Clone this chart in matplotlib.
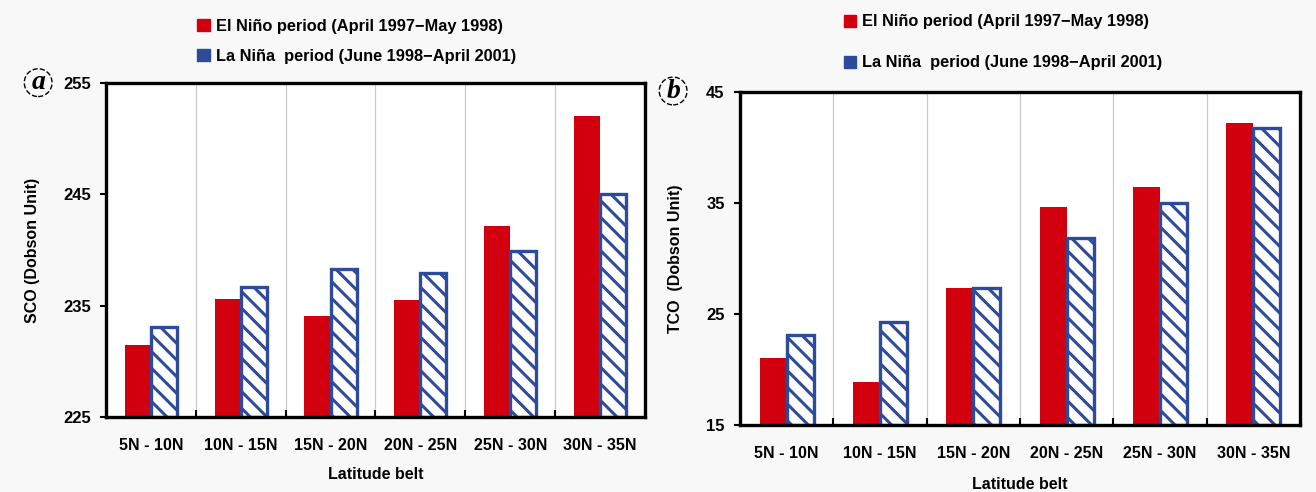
import numpy as np
import matplotlib
matplotlib.use("Agg")
import matplotlib.pyplot as plt
from matplotlib.patches import Patch

plt.rcParams['font.family'] = ['Liberation Sans', 'DejaVu Sans']
plt.rcParams['font.weight'] = 'bold'
plt.rcParams['hatch.linewidth'] = 2.2
plt.rcParams['hatch.color'] = '#2e4b9b'

belts = ["5N - 10N", "10N - 15N", "15N - 20N", "20N - 25N", "25N - 30N", "30N - 35N"]

# SCO (panel a)
sco_nino = [231.5, 235.6, 234.1, 235.5, 242.2, 252.0]
sco_nina = [233.1, 236.7, 238.3, 237.9, 239.9, 245.0]

# TCO (panel b)
tco_nino = [21.0, 18.9, 27.3, 34.6, 36.4, 42.2]
tco_nina = [23.1, 24.3, 27.3, 31.8, 35.0, 41.7]

label_nino = "El Niño period (April 1997\u2212May 1998)"
label_nina = "La Niña  period (June 1998\u2212April 2001)"

red = '#d2000f'
blue = '#2e4b9b'

fig = plt.figure(figsize=(13.16, 4.92), dpi=100, facecolor='#f8f8f8')
axa = fig.add_axes([0.0805, 0.1524, 0.4096, 0.6789])
axb = fig.add_axes([0.5623, 0.1362, 0.4255, 0.6775])


def draw_panel(ax, nino, nina, ylim, yticks, ylabel, letter, letter_xy, leg_xy, leg_space, lab_xy, xl_y):
    x = np.arange(len(belts))
    w = 0.29
    ax.set_facecolor('white')
    ax.bar(x - w / 2, np.array(nino) - ylim[0], w, bottom=ylim[0], color=red, zorder=3)
    ax.bar(x + w / 2, np.array(nina) - ylim[0], w, bottom=ylim[0], facecolor='white',
           edgecolor=blue, linewidth=2.4, hatch='\\\\', zorder=3)
    ax.set_xlim(-0.5, len(belts) - 0.5)
    ax.set_ylim(*ylim)
    ax.set_yticks(yticks)
    ax.set_xticks(x)
    ax.set_xticklabels(belts, fontsize=11.5, fontweight='bold')
    ax.set_xticks(np.arange(0.5, len(belts) - 0.5), minor=True)
    ax.tick_params(axis='x', which='major', length=0, pad=15)
    ax.tick_params(axis='x', which='minor', direction='in', length=5, width=1.5)
    ax.tick_params(axis='y', direction='out', length=4, width=1.5, pad=7, labelsize=12)
    for t in ax.get_yticklabels():
        t.set_fontweight('bold')
    ax.grid(True, axis='x', which='minor', color='#c8c8c8', linewidth=0.8, zorder=0)
    for s in ax.spines.values():
        s.set_linewidth(2.4)
        s.set_zorder(5)
    ax.set_ylabel(ylabel, fontsize=11.5, fontweight='bold')
    ax.yaxis.set_label_coords(lab_xy[0], lab_xy[1])
    ax.set_xlabel("Latitude belt", fontsize=11.5, fontweight='bold')
    ax.xaxis.set_label_coords(0.5, xl_y)
    fig.text(letter_xy[0], letter_xy[1], letter, fontsize=20, style='italic', fontweight='bold',
             family='Liberation Serif', ha='center', va='center',
             bbox=dict(boxstyle='circle,pad=0.05', fc='none', ec='black', lw=1.0, ls='--'))
    handles = [Patch(facecolor=red, edgecolor=red),
               Patch(facecolor=blue, edgecolor=blue)]
    leg = fig.legend(handles, [label_nino, label_nina], loc='upper left', bbox_to_anchor=leg_xy,
                     frameon=False, fontsize=11.8, handlelength=0.75, handleheight=0.75,
                     handletextpad=0.4, labelspacing=leg_space, borderpad=0, borderaxespad=0)
    for t in leg.get_texts():
        t.set_fontweight('bold')


draw_panel(axa, sco_nino, sco_nina, (225, 255), [225, 235, 245, 255], "SCO (Dobson Unit)",
           "a", (0.029, 0.832), (0.150, 0.962), 0.92, (-0.122, 0.5), -0.15)
draw_panel(axb, tco_nino, tco_nina, (15, 45), [15, 25, 35, 45], "TCO  (Dobson Unit)",
           "b", (0.5115, 0.815), (0.641, 0.971), 1.6, (-0.102, 0.5), -0.155)

fig.savefig("out.png", dpi=100, facecolor=fig.get_facecolor())
